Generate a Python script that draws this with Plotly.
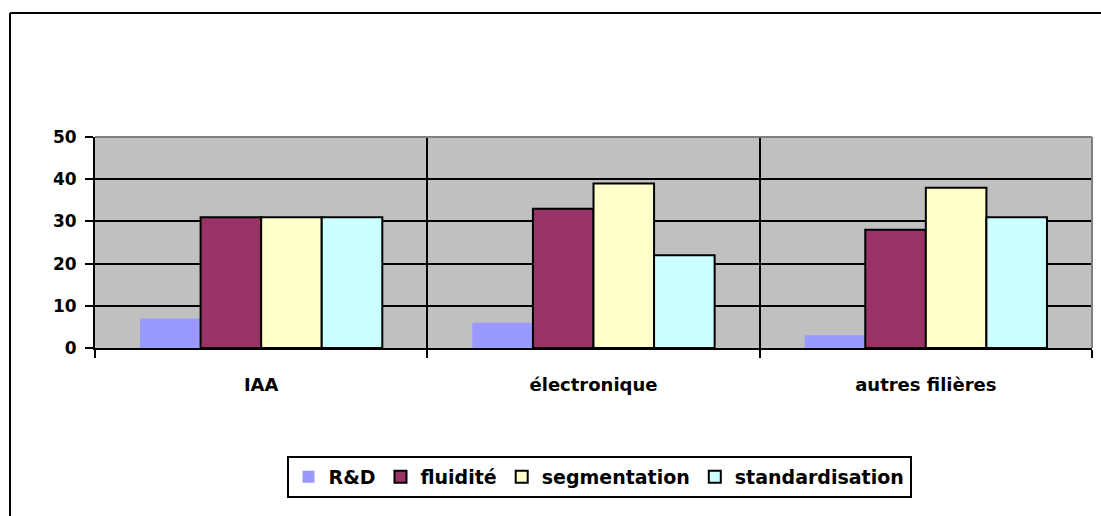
import plotly.graph_objects as go

categories = ["IAA", "électronique", "autres filières"]
series_names = ["R&D", "fluidité", "segmentation", "standardisation"]
rd = [7, 6, 3]
fluidite = [31, 33, 28]
segmentation = [31, 39, 38]
standardisation = [31, 22, 31]
y_ticks = [0, 10, 20, 30, 40, 50]

colors = ["#9999FF", "#993366", "#FFFFCC", "#CCFFFF"]
values = [rd, fluidite, segmentation, standardisation]

FONT = "DejaVu Sans"

fig = go.Figure()
for name, vals, col in zip(series_names, values, colors):
    outline = dict(color="black", width=2) if name != "R&D" else dict(color=col, width=0)
    fig.add_trace(go.Bar(name=name, x=categories, y=vals, marker=dict(color=col, line=outline)))

W, H = 1101, 516
L, R, T, B = 95, 9, 137, 168
pw, ph = W - L - R, H - T - B

def px_x(x):
    return (x - L) / pw

def px_y(y):
    return (H - B - y) / ph

fig.update_layout(
    width=W, height=H,
    margin=dict(l=L, r=R, t=T, b=B, pad=0),
    paper_bgcolor="white",
    plot_bgcolor="#C0C0C0",
    barmode="group",
    bargap=0.271,
    bargroupgap=0,
    font=dict(family=FONT, color="black"),
    legend=dict(
        orientation="h",
        x=px_x(599), xanchor="center",
        y=px_y(477), yanchor="middle",
        bordercolor="black", borderwidth=2,
        bgcolor="white",
        font=dict(family=FONT, size=19, color="black", weight="bold"),
        itemwidth=30,
        traceorder="normal",
    ),
    xaxis=dict(
        tickson="boundaries",
        ticks="outside", ticklen=8, tickwidth=2, tickcolor="black",
        showgrid=True, gridcolor="black", gridwidth=2,
        showline=True, linecolor="black", linewidth=2,
        tickfont=dict(family=FONT, size=18, color="black", weight="bold"),
        ticklabelstandoff=19,
        fixedrange=True,
    ),
    yaxis=dict(
        range=[0, 50],
        tickvals=y_ticks,
        ticks="outside", ticklen=8, tickwidth=2, tickcolor="black",
        showgrid=True, gridcolor="black", gridwidth=2,
        showline=True, linecolor="black", linewidth=2,
        zeroline=False,
        tickfont=dict(family=FONT, size=17, color="black", weight="bold"),
        ticklabelstandoff=5,
        fixedrange=True,
    ),
    shapes=[
        # plot area gray border (top and right)
        dict(type="line", xref="paper", yref="paper", x0=0, x1=1, y0=1, y1=1,
             line=dict(color="#808080", width=2), layer="above"),
        dict(type="line", xref="paper", yref="paper", x0=1, x1=1, y0=0, y1=1,
             line=dict(color="#808080", width=2), layer="above"),
        # chart area border (left and top)
        dict(type="line", xref="paper", yref="paper", x0=px_x(10), x1=px_x(10), y0=px_y(13), y1=px_y(520),
             line=dict(color="black", width=2), layer="above"),
        dict(type="line", xref="paper", yref="paper", x0=px_x(10), x1=px_x(1105), y0=px_y(13), y1=px_y(13),
             line=dict(color="black", width=2), layer="above"),
    ],
)

fig.write_html(
    "out.html",
    config={"displayModeBar": False, "staticPlot": True},
    post_script="document.body.style.margin='0';document.body.style.overflow='hidden';",
)
